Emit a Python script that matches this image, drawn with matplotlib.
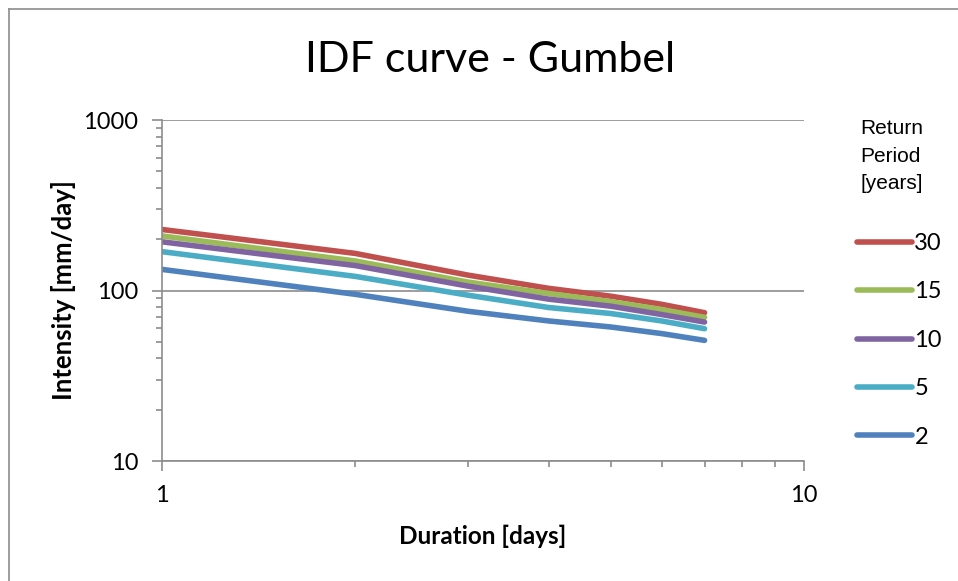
import matplotlib
matplotlib.use("Agg")
import matplotlib.pyplot as plt
from matplotlib.lines import Line2D
from matplotlib.ticker import NullFormatter, LogLocator

duration = [1, 2, 3, 4, 5, 6, 7]
series_labels = ["30", "15", "10", "5", "2"]
rp30 = [228, 165, 123, 103, 92.6, 83.0, 74.1]
rp15 = [209, 149, 112, 96.0, 86.0, 77.3, 69.6]
rp10 = [193, 140, 106, 89.0, 80.9, 72.3, 65.3]
rp5 = [169, 121, 93.8, 79.5, 73.3, 66.3, 59.7]
rp2 = [133, 95.0, 75.5, 66.3, 61.1, 55.9, 51.0]
series = [rp30, rp15, rp10, rp5, rp2]
colors = ["#C0504D", "#9BBB59", "#8064A2", "#4BACC6", "#4F81BD"]

W, H = 958, 581
fig = plt.figure(figsize=(W / 100, H / 100), dpi=100)
fig.patch.set_facecolor("white")

# outer frame (left and top edges visible)
fig.add_artist(Line2D([9 / W, 9 / W], [0, 1 - 9 / H], color="#8C8C8C", lw=1.2, transform=fig.transFigure))
fig.add_artist(Line2D([9 / W, 1], [1 - 9 / H, 1 - 9 / H], color="#8C8C8C", lw=1.2, transform=fig.transFigure))

L, R, T, B = 162, 804, 120, 461
ax = fig.add_axes([L / W, 1 - B / H, (R - L) / W, (B - T) / H])
ax.set_xscale("log")
ax.set_yscale("log")
ax.set_xlim(1, 10)
ax.set_ylim(10, 1000)

for vals, c, lab in zip(series, colors, series_labels):
    ax.plot(duration, vals, color=c, lw=4.0, solid_capstyle="round", solid_joinstyle="round", label=lab)

gray = "#8C8C8C"
for s in ["top", "right"]:
    ax.spines[s].set_visible(False)
for s in ["left", "bottom"]:
    ax.spines[s].set_color(gray)
    ax.spines[s].set_linewidth(1.2)

ax.yaxis.grid(True, which="major", color=gray, lw=1.2)
ax.set_axisbelow(True)

ax.set_xticks([1, 10])
ax.set_xticklabels(["1", "10"])
ax.set_yticks([10, 100, 1000])
ax.set_yticklabels(["10", "100", "1000"])
ax.xaxis.set_minor_locator(LogLocator(base=10, subs=range(2, 10)))
ax.yaxis.set_minor_locator(LogLocator(base=10, subs=range(2, 10)))
ax.xaxis.set_minor_formatter(NullFormatter())
ax.yaxis.set_minor_formatter(NullFormatter())
ax.tick_params(which="major", length=7, width=1.2, color=gray, direction="out",
               labelsize=17, labelcolor="black")
ax.tick_params(which="minor", length=4, width=1.2, color=gray, direction="out")
ax.tick_params(axis="x", which="major", pad=10)
ax.tick_params(axis="y", which="major", pad=10)
for lbl in ax.get_xticklabels() + ax.get_yticklabels():
    lbl.set_family("Lato")

ax.set_xlabel("Duration [days]", family="Lato", fontweight="bold", fontsize=17.5, labelpad=14)
ax.set_ylabel("Intensity [mm/day]", family="Lato", fontweight="bold", fontsize=18.5, labelpad=5)

fig.text(490 / W, 1 - 60 / H, "IDF curve - Gumbel", family="Lato", fontsize=31,
         ha="center", va="center")

fig.text(860 / W, 1 - 119 / H, "Return\nPeriod\n[years]", family="Liberation Sans",
         fontsize=15, ha="left", va="top", linespacing=1.58)

leg = ax.legend(loc="upper left", bbox_to_anchor=(857 / W, 1 - 233 / H),
                bbox_transform=fig.transFigure, frameon=False,
                prop={"family": "Lato", "size": 17}, handlelength=2.33,
                handletextpad=0.1, labelspacing=1.16, borderpad=0, borderaxespad=0)

fig.savefig("out.png", dpi=100)
